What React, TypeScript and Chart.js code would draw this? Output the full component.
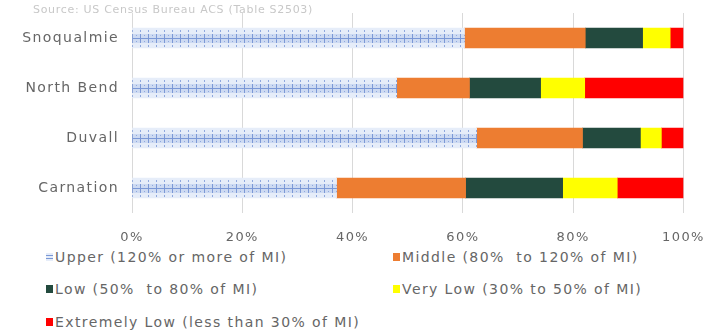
import React, { useEffect, useRef } from "react";
import { Chart, registerables } from "chart.js";

Chart.register(...registerables);

const categories = ["Snoqualmie", "North Bend", "Duvall", "Carnation"];
const seriesNames = [
  "Upper (120% or more of MI)",
  "Middle (80%  to 120% of MI)",
  "Low (50%  to 80% of MI)",
  "Very Low (30% to 50% of MI)",
  "Extremely Low (less than 30% of MI)",
];
const upper = [60.3, 48.0, 62.5, 37.1];
const middle = [21.9, 13.2, 19.2, 23.4];
const low = [10.4, 12.9, 10.5, 17.6];
const veryLow = [5.0, 8.0, 3.8, 9.9];
const extremelyLow = [2.4, 17.9, 4.0, 12.0];
const xTicks = [0, 20, 40, 60, 80, 100];
const sourceText = "Source: US Census Bureau ACS (Table S2503)";

const colors = ["#dbe5f5", "#ed7d31", "#234a3e", "#ffff00", "#ff0000"];
const FONT = "'DejaVu Sans', sans-serif";
const GRAY = "#666666";

function makePattern(): CanvasPattern | string {
  const c = document.createElement("canvas");
  c.width = 8;
  c.height = 25;
  const g = c.getContext("2d");
  if (!g) return colors[0];
  g.fillStyle = "#e6edf9";
  g.fillRect(0, 0, 8, 25);
  g.fillStyle = "#cddaf2";
  g.fillRect(0, 9, 8, 9);
  g.strokeStyle = "#7b98d6";
  g.lineWidth = 1;
  g.beginPath();
  g.moveTo(0, 13.5);
  g.lineTo(8, 13.5);
  g.moveTo(4.5, 9);
  g.lineTo(4.5, 18);
  g.stroke();
  g.fillStyle = "#8fa8de";
  g.fillRect(4, 5, 1, 2);
  g.fillRect(4, 20, 1, 2);
  g.fillRect(0, 10, 1, 1);
  g.fillRect(0, 16, 1, 1);
  const p = g.createPattern(c, "repeat");
  return p || colors[0];
}

const spacingPlugin = {
  id: "letterSpacing",
  beforeDraw(chart: any) {
    try {
      chart.ctx.letterSpacing = "1.4px";
    } catch (e) {}
  },
};

export default function App() {
  const ref = useRef<HTMLCanvasElement>(null);
  useEffect(() => {
    if (!ref.current) return;
    const pattern = makePattern();
    const values = [upper, middle, low, veryLow, extremelyLow];
    const chart = new Chart(ref.current, {
      type: "bar",
      data: {
        labels: categories,
        datasets: values.map((d, i) => ({
          label: seriesNames[i],
          data: d,
          backgroundColor: i === 0 ? (pattern as any) : colors[i],
          borderWidth: 0,
          barThickness: 20,
        })),
      },
      plugins: [spacingPlugin],
      options: {
        indexAxis: "y",
        animation: false,
        responsive: false,
        maintainAspectRatio: false,
        layout: { padding: { top: 13, right: 35, left: 0, bottom: 0 } },
        plugins: { legend: { display: false }, tooltip: { enabled: false } },
        scales: {
          x: {
            stacked: true,
            min: 0,
            max: 100,
            afterBuildTicks: (s: any) => {
              s.ticks = xTicks.map((v) => ({ value: v }));
            },
            afterFit: (s: any) => {
              s.height = 32;
            },
            ticks: {
              callback: (v: any) => v + "%",
              color: GRAY,
              font: { family: FONT, size: 13 },
              padding: 17,
              maxRotation: 0,
            },
            grid: { color: "#d9d9d9", drawTicks: false },
            border: { display: false },
          },
          y: {
            stacked: true,
            afterFit: (s: any) => {
              s.width = 132;
              s.paddingTop = 0;
              s.paddingBottom = 0;
            },
            ticks: {
              color: GRAY,
              font: { family: FONT, size: 14 },
              padding: 5,
            },
            grid: { display: false },
            border: { display: false },
          },
        },
      },
    });
    return () => chart.destroy();
  }, []);

  const legendItem = (i: number, left: number, top: number) => (
    <div
      key={i}
      style={{
        position: "absolute",
        left,
        top,
        display: "flex",
        alignItems: "center",
        whiteSpace: "pre",
        fontFamily: FONT,
        fontSize: 14,
        letterSpacing: "1.4px",
        color: GRAY,
      }}
    >
      <span
        style={{
          display: "inline-block",
          width: 7,
          height: 8,
          marginRight: 2,
          background:
            i === 0
              ? "repeating-linear-gradient(0deg,#e6edf9 0 2px,#7b98d6 2px 3px)"
              : colors[i],
        }}
      />
      {seriesNames[i]}
    </div>
  );

  return (
    <div
      style={{
        position: "absolute",
        left: 0,
        top: 0,
        width: 719,
        height: 333,
        background: "#fff",
        overflow: "hidden",
      }}
    >
      <canvas
        ref={ref}
        width={719}
        height={245}
        style={{ position: "absolute", left: 0, top: 0, width: 719, height: 245 }}
      />
      <div
        style={{
          position: "absolute",
          left: 33,
          top: 3,
          fontFamily: FONT,
          fontSize: 11,
          letterSpacing: "0.7px",
          color: "#c8c8c8",
          whiteSpace: "pre",
        }}
      >
        {sourceText}
      </div>
      {legendItem(0, 46, 249)}
      {legendItem(1, 393, 249)}
      {legendItem(2, 46, 281)}
      {legendItem(3, 393, 281)}
      {legendItem(4, 46, 314)}
    </div>
  );
}
